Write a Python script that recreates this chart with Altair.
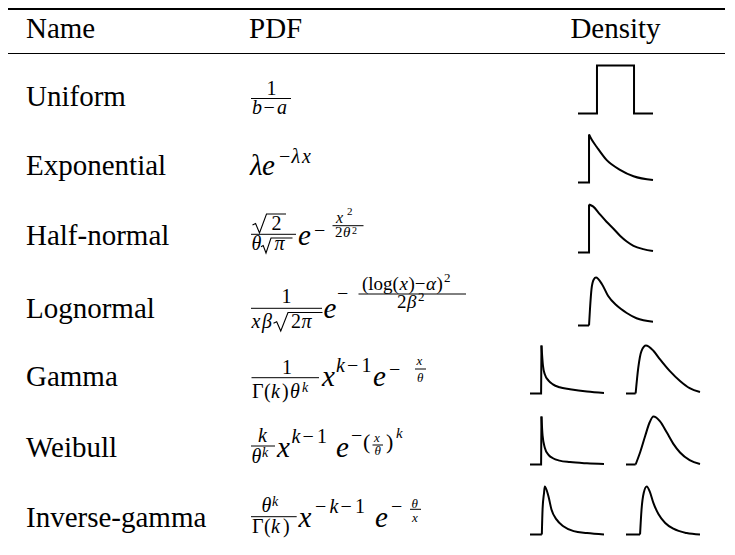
import altair as alt
import pandas as pd

# ---------------- content ----------------
HEADERS = ["Name", "PDF", "Density"]
NAMES = ["Uniform", "Exponential", "Half-normal", "Lognormal",
         "Gamma", "Weibull", "Inverse-gamma"]

# density sketches: (x fraction, height fraction)
# each sketch = (straight part, smooth part)
UNIFORM = ([(0, 0), (0.253, 0), (0.253, 1), (0.747, 1), (0.747, 0), (1, 0)], [])
EXPONENTIAL = ([(0, 0), (0.147, 0), (0.147, 1)],
               [(0.147, 1), (0.18, 0.9), (0.25, 0.74), (0.38, 0.47), (0.56, 0.265),
                (0.74, 0.13), (1.0, 0.05)])
HALFNORMAL = ([(0, 0), (0.147, 0), (0.147, 1)],
              [(0.147, 1), (0.2, 0.96), (0.29, 0.8), (0.38, 0.64), (0.47, 0.5),
               (0.56, 0.35), (0.65, 0.23), (0.74, 0.14), (0.87, 0.07), (1.0, 0.03)])
LOGNORMAL = ([(0, 0), (0.147, 0)],
             [(0.147, 0), (0.16, 0.35), (0.18, 0.76), (0.21, 0.96), (0.24, 1.0),
              (0.32, 0.86), (0.40, 0.62), (0.52, 0.41), (0.65, 0.26), (0.78, 0.15),
              (1.0, 0.08)])
GAMMA_A = ([(0, 0), (0.15, 0), (0.155, 1.0)],
           [(0.155, 1.0), (0.175, 0.58), (0.2, 0.4), (0.25, 0.27), (0.31, 0.19),
            (0.4, 0.13), (0.54, 0.09), (0.77, 0.04), (1.0, 0.01)])
GAMMA_B = ([(0, 0), (0.13, 0)],
           [(0.13, 0), (0.166, 0.54), (0.21, 0.89), (0.27, 1.0), (0.37, 0.89),
            (0.46, 0.71), (0.59, 0.47), (0.73, 0.26), (0.86, 0.11), (1.0, 0.03)])
WEIBULL_A = ([(0, 0), (0.15, 0), (0.155, 1.0)],
             [(0.155, 1.0), (0.17, 0.6), (0.2, 0.35), (0.25, 0.2), (0.31, 0.13),
              (0.4, 0.08), (0.54, 0.05), (0.77, 0.025), (1.0, 0.01)])
WEIBULL_B = ([(0, 0), (0.13, 0)],
             [(0.13, 0), (0.19, 0.25), (0.26, 0.6), (0.32, 0.88), (0.37, 1.0),
              (0.46, 0.9), (0.55, 0.67), (0.64, 0.43), (0.73, 0.25), (0.86, 0.09),
              (1.0, 0.01)])
INVGAMMA_A = ([(0, 0), (0.16, 0)],
              [(0.16, 0), (0.17, 0.53), (0.19, 0.87), (0.2, 1.0), (0.25, 0.79),
               (0.29, 0.52), (0.36, 0.31), (0.45, 0.17), (0.59, 0.07), (0.77, 0.03),
               (1.0, 0.0)])
INVGAMMA_B = ([(0, 0), (0.19, 0)],
              [(0.19, 0), (0.21, 0.52), (0.24, 0.87), (0.28, 1.0), (0.32, 0.9),
               (0.37, 0.66), (0.44, 0.42), (0.53, 0.24), (0.64, 0.12), (0.82, 0.03),
               (1.0, 0.0)])
SKETCHES = [[UNIFORM], [EXPONENTIAL], [HALFNORMAL], [LOGNORMAL],
            [GAMMA_A, GAMMA_B], [WEIBULL_A, WEIBULL_B], [INVGAMMA_A, INVGAMMA_B]]

# ---------------- layout ----------------
W, H = 717, 533
X0, Y0 = 8, 8
FONT = "'Liberation Serif', 'DejaVu Serif', serif"
HEAD_BASE = 38
ROW_BASE = [106, 175, 245, 318, 386, 457, 527]
NAME_X = 26
NAME_SIZE = 29
M, S, N, T2, T = 29, 20, 19, 14, 13
SKETCH_H = 48
SKETCH_DROP = 7.5
SINGLE_SLOT = [(578, 75)]
DOUBLE_SLOT = [(530, 74), (626, 74)]

# formula typesetting:
#   ("t", text, x, dy, size, italic)   glyph run, left aligned on the baseline
#   ("r", x1, x2, dy)                  fraction bar
#   ("q", x0, xt, x_end, dy_top, dy_bottom)  radical sign with its overline
FORMULAS = [
    [("t", "1", 266.5, -11, S, 0), ("r", 251, 291, -7.5),
     ("t", "b", 252, 8, S, 1), ("t", "−", 263.5, 8, S, 0), ("t", "a", 277, 8, S, 1)],
    [("t", "λ", 250, 0, M, 1), ("t", "e", 262, 0, M, 1),
     ("t", "−", 279, -12, S, 0), ("t", "λ", 291.5, -12, S, 1), ("t", "x", 302, -12, S, 1)],
    [("q", 252.5, 266.5, 286, -31, -12), ("t", "2", 271.5, -15, S, 0),
     ("r", 251, 296, -10.7),
     ("t", "θ", 251.5, 5, S, 1), ("q", 261, 271, 292.5, -7, 8), ("t", "π", 274.5, 5, S, 1),
     ("t", "e", 298, 0, M, 1), ("t", "−", 314, -8, S, 0),
     ("t", "x", 336, -22, 16, 1), ("t", "2", 347, -30, 11, 0), ("r", 332.5, 363.5, -19.3),
     ("t", "2", 335, -8, 15, 0), ("t", "θ", 343, -8, 15, 1), ("t", "2", 352, -11.5, 10, 0)],
    [("t", "1", 281.5, -14.7, S, 0), ("r", 251, 322, -9.7),
     ("t", "x", 251.5, 10, S, 1), ("t", "β", 262, 10, S, 1),
     ("q", 273.5, 288, 322.5, -5.5, 13),
     ("t", "2", 291, 10, S, 0), ("t", "π", 301.5, 10, S, 1),
     ("t", "e", 323.5, 0, M, 1), ("t", "−", 337, -18, S, 0),
     ("t", "(log(", 362, -28, N, 0), ("t", "x", 399.5, -28, N, 1),
     ("t", ")−", 408.5, -28, N, 0), ("t", "α", 426, -28, N, 1), ("t", ")", 436.5, -28, N, 0),
     ("t", "2", 444, -36, T, 0), ("r", 358.5, 466, -24),
     ("t", "2", 397, -10, N, 0), ("t", "β", 407, -10, N, 1), ("t", "2", 418, -17, T, 0)],
    [("t", "1", 282, -11.7, S, 0), ("r", 251.5, 319, -8.3),
     ("t", "Γ", 252, 12, S, 0), ("t", "(", 264, 12, S, 0), ("t", "k", 271, 12, S, 1),
     ("t", ")", 282, 12, S, 0), ("t", "θ", 290, 12, S, 1), ("t", "k", 302, 6, T2, 1),
     ("t", "x", 322, 0, M, 1),
     ("t", "k", 336, -14, S, 1), ("t", "−", 347, -14, S, 0), ("t", "1", 361.5, -14, S, 0),
     ("t", "e", 373, 0, M, 1), ("t", "−", 389, -10, S, 0),
     ("t", "x", 416.5, -21, T, 1), ("r", 415, 426, -17), ("t", "θ", 417, -4, T, 1)],
    [("t", "k", 258, -15.3, S, 1), ("r", 251, 275, -11),
     ("t", "θ", 251.5, 6, S, 1), ("t", "k", 262, 0, T2, 1),
     ("t", "x", 277, 0, M, 1),
     ("t", "k", 291.5, -14, S, 1), ("t", "−", 302.5, -14, S, 0), ("t", "1", 317, -14, S, 0),
     ("t", "e", 336, 0, M, 1), ("t", "−", 351, -15, S, 0), ("t", "(", 363, -8, 22, 0),
     ("t", "x", 374, -15, T, 1), ("r", 372.5, 383, -12), ("t", "θ", 374.5, -2, T, 1),
     ("t", ")", 386, -8, 22, 0), ("t", "k", 396, -19, 15, 1)],
    [("t", "θ", 261.5, -15.3, S, 1), ("t", "k", 272, -21, T2, 1), ("r", 251, 296.7, -10.3),
     ("t", "Γ", 252, 6.3, S, 0), ("t", "(", 264, 6.3, S, 0), ("t", "k", 271, 6.3, S, 1),
     ("t", ")", 283, 6.3, S, 0),
     ("t", "x", 298.5, 0, M, 1),
     ("t", "−", 315, -14, S, 0), ("t", "k", 329.5, -14, S, 1), ("t", "−", 340.5, -14, S, 0),
     ("t", "1", 355, -14, S, 0),
     ("t", "e", 375, 0, M, 1), ("t", "−", 391, -14, S, 0),
     ("t", "θ", 411.5, -19, T, 1), ("r", 410, 421, -17.7), ("t", "x", 412, -5.3, T, 1)],
]

# ---------------- build tables ----------------
texts = []   # x, y, text, size, italic, align
rules = []   # x, x2, y, w
rads = []    # radical polylines
texts.append(dict(x=NAME_X, y=HEAD_BASE, text=HEADERS[0], size=NAME_SIZE, it=0, al="left"))
texts.append(dict(x=249, y=HEAD_BASE, text=HEADERS[1], size=NAME_SIZE, it=0, al="left"))
texts.append(dict(x=615.5, y=HEAD_BASE, text=HEADERS[2], size=NAME_SIZE, it=0, al="center"))
rules.append(dict(x=X0, x2=X0 + W, y=9, w=2.2))
rules.append(dict(x=X0, x2=X0 + W, y=53.5, w=1.2))

rid = 0
for i, name in enumerate(NAMES):
    b = ROW_BASE[i]
    texts.append(dict(x=NAME_X, y=b, text=name, size=NAME_SIZE, it=0, al="left"))
    for p in FORMULAS[i]:
        if p[0] == "t":
            _, s, x, dy, size, it = p
            texts.append(dict(x=x, y=b + dy, text=s, size=size, it=it, al="left"))
        elif p[0] == "r":
            _, x1, x2, dy = p
            rules.append(dict(x=x1, x2=x2, y=b + dy, w=1.0))
        else:
            _, xa, xt, xe, dt, db = p
            yt, yb = b + dt, b + db
            h = yb - yt
            pts = [(xa, yb - 0.42 * h), (xa + 0.22 * (xt - xa), yb - 0.5 * h),
                   (xa + 0.5 * (xt - xa), yb), (xt, yt), (xe, yt)]
            for k, (px, py) in enumerate(pts):
                rads.append(dict(rid=rid, k=k, x=px, y=py))
            rid += 1

lin_rows, smooth_rows = [], []
cid = 0
for i, sk in enumerate(SKETCHES):
    bottom = ROW_BASE[i] + SKETCH_DROP
    slots = SINGLE_SLOT if len(sk) == 1 else DOUBLE_SLOT
    for (x0, w), (lin, smooth) in zip(slots, sk):
        for k, (fx, fy) in enumerate(lin):
            lin_rows.append(dict(cid=cid, k=k, x=x0 + fx * w, y=bottom - fy * SKETCH_H))
        for k, (fx, fy) in enumerate(smooth):
            smooth_rows.append(dict(cid=cid, k=k, x=x0 + fx * w, y=bottom - fy * SKETCH_H))
        cid += 1

texts = pd.DataFrame(texts)
rules = pd.DataFrame(rules)
rads = pd.DataFrame(rads)
lin_df = pd.DataFrame(lin_rows)
smooth_df = pd.DataFrame(smooth_rows)

xs = alt.Scale(domain=[X0, X0 + W], nice=False, zero=False)
ys = alt.Scale(domain=[Y0, Y0 + H], nice=False, zero=False, reverse=True)
X = lambda f="x": alt.X(f"{f}:Q", scale=xs, axis=None)
Y = lambda f="y": alt.Y(f"{f}:Q", scale=ys, axis=None)


def text_layer(df, italic, align):
    sub = df[(df.it == italic) & (df.al == align)]
    return alt.Chart(sub).mark_text(
        font=FONT, fontStyle="italic" if italic else "normal",
        align=align, baseline="alphabetic", color="black"
    ).encode(x=X(), y=Y(), text="text:N",
             size=alt.Size("size:Q", scale=None, legend=None))


layers = [
    text_layer(texts, 0, "left"),
    text_layer(texts, 1, "left"),
    text_layer(texts, 0, "center"),
    alt.Chart(rules).mark_rule(color="black").encode(
        x=X(), x2="x2:Q", y=Y(),
        strokeWidth=alt.StrokeWidth("w:Q", scale=None, legend=None)),
    alt.Chart(rads).mark_line(color="black", strokeWidth=1.1, interpolate="linear",
                              strokeJoin="miter").encode(
        x=X(), y=Y(), detail="rid:N", order="k:Q"),
    alt.Chart(lin_df).mark_line(color="black", strokeWidth=2, interpolate="linear",
                                strokeJoin="miter").encode(
        x=X(), y=Y(), detail="cid:N", order="k:Q"),
    alt.Chart(smooth_df).mark_line(color="black", strokeWidth=2,
                                   interpolate="monotone").encode(
        x=X(), y=Y(), detail="cid:N", order="k:Q"),
]

chart = alt.layer(*layers).properties(
    width=W, height=H, padding=0,
    autosize=alt.AutoSizeParams(type="none"),
    background="white",
).configure_view(stroke=None)

chart.save("out.html", embed_options={"renderer": "svg", "actions": False})
